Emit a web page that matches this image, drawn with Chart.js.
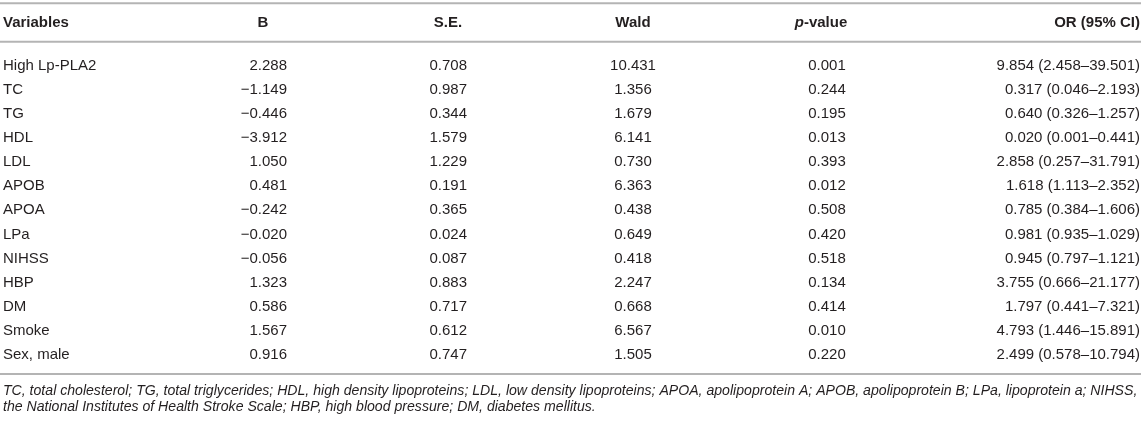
<!DOCTYPE html>
<html><head><meta charset="utf-8">
<script src="https://cdn.jsdelivr.net/npm/chart.js@4/dist/chart.umd.min.js"></script>
<style>html,body{margin:0;padding:0;background:#fff;overflow:hidden}#wrap{width:1143px;height:421px;position:relative}</style>
</head><body><div id="wrap"><canvas id="c" width="1143" height="421"></canvas></div>
<script>
const variables = ['High Lp-PLA2','TC','TG','HDL','LDL','APOB','APOA','LPa','NIHSS','HBP','DM','Smoke','Sex, male'];
const bValues = [2.288,-1.149,-0.446,-3.912,1.050,0.481,-0.242,-0.020,-0.056,1.323,0.586,1.567,0.916];
const seValues = [0.708,0.987,0.344,1.579,1.229,0.191,0.365,0.024,0.087,0.883,0.717,0.612,0.747];
const waldValues = [10.431,1.356,1.679,6.141,0.730,6.363,0.438,0.649,0.418,2.247,0.668,6.567,1.505];
const pValues = [0.001,0.244,0.195,0.013,0.393,0.012,0.508,0.420,0.518,0.134,0.414,0.010,0.220];
const orValues = [9.854,0.317,0.640,0.020,2.858,1.618,0.785,0.981,0.945,3.755,1.797,4.793,2.499];
const ciLow = [2.458,0.046,0.326,0.001,0.257,1.113,0.384,0.935,0.797,0.666,0.441,1.446,0.578];
const ciHigh = [39.501,2.193,1.257,0.441,31.791,2.352,1.606,1.029,1.121,21.177,7.321,15.891,10.794];
const columnHeaders = ['Variables','B','S.E.','Wald','p-value','OR (95% CI)'];
const footnoteLines = [
  'TC, total cholesterol; TG, total triglycerides; HDL, high density lipoproteins; LDL, low density lipoproteins; APOA, apolipoprotein A; APOB, apolipoprotein B; LPa, lipoprotein a; NIHSS,',
  'the National Institutes of Health Stroke Scale; HBP, high blood pressure; DM, diabetes mellitus.'
];

const W = 1143, H = 421;
const FONT = '"Liberation Sans", Arial, Helvetica, sans-serif';
const TEXT = '#231f20';
const RULE = '#b4b4b4';
const fmt = v => v.toFixed(3).replace('-', '\u2212');
const cellText = [
  variables,
  bValues.map(fmt),
  seValues.map(fmt),
  waldValues.map(fmt),
  pValues.map(fmt),
  orValues.map((v, i) => fmt(v) + ' (' + fmt(ciLow[i]) + '\u2013' + fmt(ciHigh[i]) + ')')
];
// layout: value anchor / alignment, header anchor / alignment
const layout = [
  {x: 3, align: 'left', hx: 3, halign: 'left'},
  {x: 287, align: 'right', hx: 263, halign: 'center'},
  {x: 467, align: 'right', hx: 448, halign: 'center'},
  {x: 633, align: 'center', hx: 633, halign: 'center'},
  {x: 827, align: 'center', hx: 821, halign: 'center'},
  {x: 1140, align: 'right', hx: 1140, halign: 'right'}
];
const rowPitch = 24.1;

const datasets = cellText.map((col, c) => ({
  label: columnHeaders[c],
  data: variables.map(v => ({x: layout[c].x, y: v})),
  pointRadius: 0, pointHoverRadius: 0, showLine: false
}));

const tablePlugin = {
  id: 'tableText',
  afterDatasetsDraw(chart) {
    const ctx = chart.ctx;
    const ys = chart.scales.y;
    const first = ys.getPixelForValue(0);
    const last = ys.getPixelForValue(variables.length - 1);
    ctx.save();
    ctx.fillStyle = TEXT;
    ctx.textBaseline = 'middle';
    // cells
    ctx.font = '15px ' + FONT;
    chart.data.datasets.forEach((ds, c) => {
      const meta = chart.getDatasetMeta(c);
      ctx.textAlign = layout[c].align;
      meta.data.forEach((el, r) => ctx.fillText(cellText[c][r], el.x, el.y));
    });
    // headers
    const hy = first - 43;
    columnHeaders.forEach((h, c) => {
      const L = layout[c];
      if (h === 'p-value') {
        ctx.font = 'italic bold 15px ' + FONT;
        const w1 = ctx.measureText('p').width;
        ctx.font = 'bold 15px ' + FONT;
        const w2 = ctx.measureText('-value').width;
        const x0 = L.hx - (w1 + w2) / 2;
        ctx.textAlign = 'left';
        ctx.font = 'italic bold 15px ' + FONT;
        ctx.fillText('p', x0, hy);
        ctx.font = 'bold 15px ' + FONT;
        ctx.fillText('-value', x0 + w1, hy);
      } else {
        ctx.font = 'bold 15px ' + FONT;
        ctx.textAlign = L.halign;
        ctx.fillText(h, L.hx, hy);
      }
    });
    // rules
    ctx.strokeStyle = RULE;
    ctx.lineWidth = 2;
    [first - 62.4, first - 24, last + 19].forEach(y => {
      ctx.beginPath(); ctx.moveTo(0, y); ctx.lineTo(1141, y); ctx.stroke();
    });
    // footnote
    ctx.textAlign = 'left';
    ctx.font = 'italic 14px ' + FONT;
    const mw = ctx.measureText(footnoteLines[0]).width;
    const fs = 14 * 1135 / mw;
    ctx.font = 'italic ' + fs.toFixed(2) + 'px ' + FONT;
    ctx.fillText(footnoteLines[0], 3, last + 35.7);
    ctx.fillText(footnoteLines[1], 3, last + 51.7);
    ctx.restore();
  }
};

new Chart(document.getElementById('c'), {
  type: 'scatter',
  data: {datasets},
  options: {
    responsive: false,
    animation: false,
    events: [],
    layout: {padding: {top: 65.7 - rowPitch / 2, bottom: H - (65.7 + rowPitch * 12.5), left: 0, right: 0}},
    plugins: {legend: {display: false}, tooltip: {enabled: false}},
    scales: {
      x: {type: 'linear', min: 0, max: W, display: false},
      y: {type: 'category', labels: variables, offset: true, display: false, reverse: false}
    }
  },
  plugins: [tablePlugin]
});
</script></body></html>
